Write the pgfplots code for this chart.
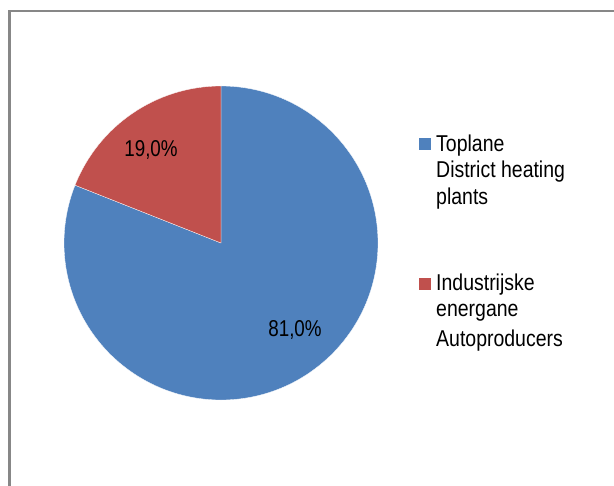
\documentclass[border=0pt]{standalone}
\usepackage{pgfplots}
\pgfplotsset{compat=1.18}
\usepackage{pgfplotstable}
\usepackage{fontspec}
\setmainfont{Liberation Sans}
\usepackage{graphicx}

\definecolor{sliceblue}{HTML}{4F81BD}
\definecolor{slicered}{HTML}{C0504D}
\definecolor{framegray}{HTML}{878787}

% share of each producer group, %
\pgfplotstableread{
share
81.0
19.0
}\piedata

\newcommand\nar[1]{\scalebox{0.82}[1]{#1}}
\newcommand\leg[1]{\scalebox{0.85}[1]{#1}}

\begin{document}
\begin{tikzpicture}
\pgfplotstablegetelem{0}{share}\of\piedata \let\sharea\pgfplotsretval
\pgfplotstablegetelem{1}{share}\of\piedata \let\shareb\pgfplotsretval
\pgfmathsetmacro\angb{90+3.6*\shareb}
\pgfmathsetmacro\anga{\angb-360}
\begin{axis}[
    x=1bp, y=1bp,
    xmin=0, xmax=614, ymin=0, ymax=486,
    hide axis, clip=false,
    font=\fontsize{23}{26}\selectfont,
]
% chart frame
\draw[framegray, line width=2bp] (axis cs:9.5,0) -- (axis cs:9.5,474.5) -- (axis cs:614,474.5);

% slices, clockwise from 12 o'clock
\fill[sliceblue, draw=white, line width=0.3bp] (axis cs:221,243) -- ++(90:157bp)
    arc[start angle=90, end angle=\anga, radius=157bp] -- cycle;
\fill[slicered, draw=white, line width=0.3bp] (axis cs:221,243) -- ++(90:157bp)
    arc[start angle=90, end angle=\angb, radius=157bp] -- cycle;

% data labels
\node[anchor=base, inner sep=0] at (axis cs:151,329.3) {\nar{19,0\%}};
\node[anchor=base, inner sep=0] at (axis cs:295,149.3) {\nar{81,0\%}};

% legend
\fill[sliceblue] (axis cs:419,336) rectangle (axis cs:431,348);
\fill[slicered] (axis cs:419,196) rectangle (axis cs:431,208);
\node[anchor=base west, inner sep=0] at (axis cs:436,334.3) {\leg{Toplane}};
\node[anchor=base west, inner sep=0] at (axis cs:436,308.5) {\leg{District heating}};
\node[anchor=base west, inner sep=0] at (axis cs:436,282) {\leg{plants}};
\node[anchor=base west, inner sep=0] at (axis cs:436,196) {\leg{Industrijske}};
\node[anchor=base west, inner sep=0] at (axis cs:436,169.3) {\leg{energane}};
\node[anchor=base west, inner sep=0] at (axis cs:436,140) {\leg{Autoproducers}};
\end{axis}
\pgfresetboundingbox
\useasboundingbox (0,0) rectangle (614bp,486bp);
\end{tikzpicture}
\end{document}
